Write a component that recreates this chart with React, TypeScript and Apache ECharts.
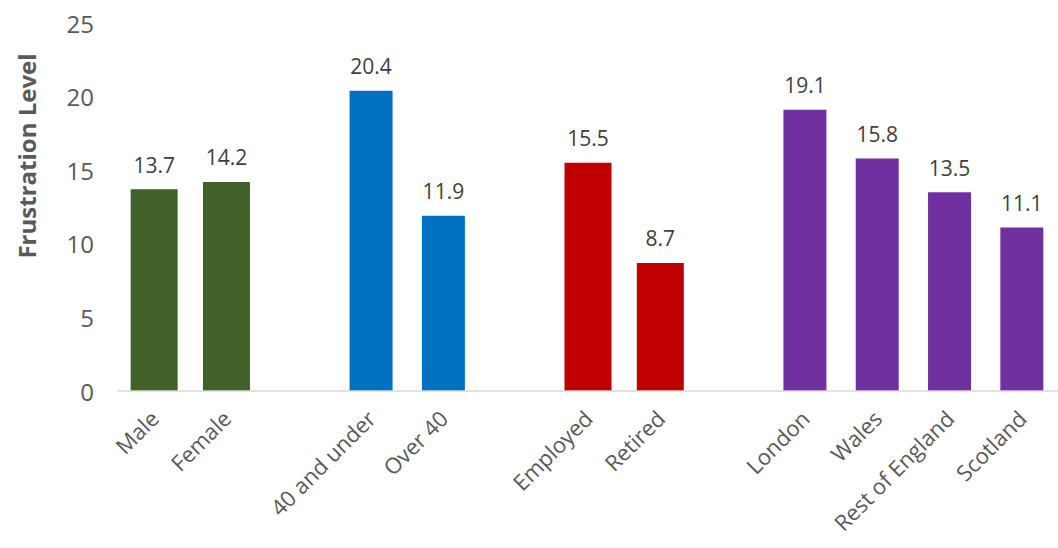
import React, { useEffect, useRef } from "react";
import * as echarts from "echarts";

const categories = ["Male", "Female", "", "40 and under", "Over 40", "", "Employed", "Retired", "", "London", "Wales", "Rest of England", "Scotland"];
const genderValues: (number | null)[] = [13.7, 14.2, null, null, null, null, null, null, null, null, null, null, null];
const ageValues: (number | null)[] = [null, null, null, 20.4, 11.9, null, null, null, null, null, null, null, null];
const workValues: (number | null)[] = [null, null, null, null, null, null, 15.5, 8.7, null, null, null, null, null];
const regionValues: (number | null)[] = [null, null, null, null, null, null, null, null, null, 19.1, 15.8, 13.5, 11.1];
const groupColors = { gender: "#41612A", age: "#0070C0", work: "#C00000", region: "#7030A0" };
const yTicks = [0, 5, 10, 15, 20, 25];
const axisTitle = "Frustration Level";

const FONT = "'Open Sans', 'Noto Sans', sans-serif";

const labelStyle = {
  show: true,
  position: "top",
  distance: 14,
  fontSize: 21,
  color: "#404040",
  fontFamily: FONT,
  formatter: (p: any) => Number(p.value).toFixed(1),
};

function mk(name: string, vals: (number | null)[], color: string, axis: number, width: number) {
  return {
    name,
    type: "bar",
    xAxisIndex: axis,
    barWidth: width,
    barGap: "-100%",
    itemStyle: { color },
    data: vals.map((v) => (v === null ? "-" : v)),
    label: labelStyle,
  };
}

export default function App() {
  const ref = useRef<HTMLDivElement>(null);
  useEffect(() => {
    if (!ref.current) return;
    const chart = echarts.init(ref.current, undefined, { renderer: "svg" });
    chart.setOption({
      animation: false,
      textStyle: { fontFamily: FONT },
      grid: { left: 118, right: 0, top: 23, bottom: 157, containLabel: false },
      xAxis: [
        {
          type: "category",
          data: categories,
          axisLine: { show: true, lineStyle: { color: "#d9d9d9", width: 1.5 } },
          axisTick: { show: false },
          axisLabel: {
            interval: 0,
            rotate: 45,
            margin: 23,
            fontSize: 22,
            color: "#595959",
            fontFamily: FONT,
          },
          z: 3,
        },
        {
          type: "category",
          data: categories,
          show: false,
        },
      ],
      yAxis: {
        type: "value",
        min: yTicks[0],
        max: yTicks[yTicks.length - 1],
        interval: 5,
        splitLine: { show: false },
        axisLine: { show: false },
        axisTick: { show: false },
        axisLabel: { margin: 24, fontSize: 24, color: "#595959", fontFamily: FONT },
      },
      graphic: [
        {
          type: "text",
          x: 26,
          y: 156,
          rotation: Math.PI / 2,
          style: {
            text: axisTitle,
            align: "center",
            verticalAlign: "middle",
            fontSize: 24,
            fontWeight: "bold",
            fill: "#595959",
            fontFamily: FONT,
          },
        },
      ],
      series: [
        mk("gender", genderValues, groupColors.gender, 0, 47),
        mk("age", ageValues, groupColors.age, 1, 43),
        mk("work", workValues, groupColors.work, 0, 47),
        mk("region", regionValues, groupColors.region, 1, 43),
      ],
    });
    return () => chart.dispose();
  }, []);
  return (
    <div
      ref={ref}
      style={{ position: "absolute", left: 0, top: 0, width: 1058, height: 548 }}
    />
  );
}
